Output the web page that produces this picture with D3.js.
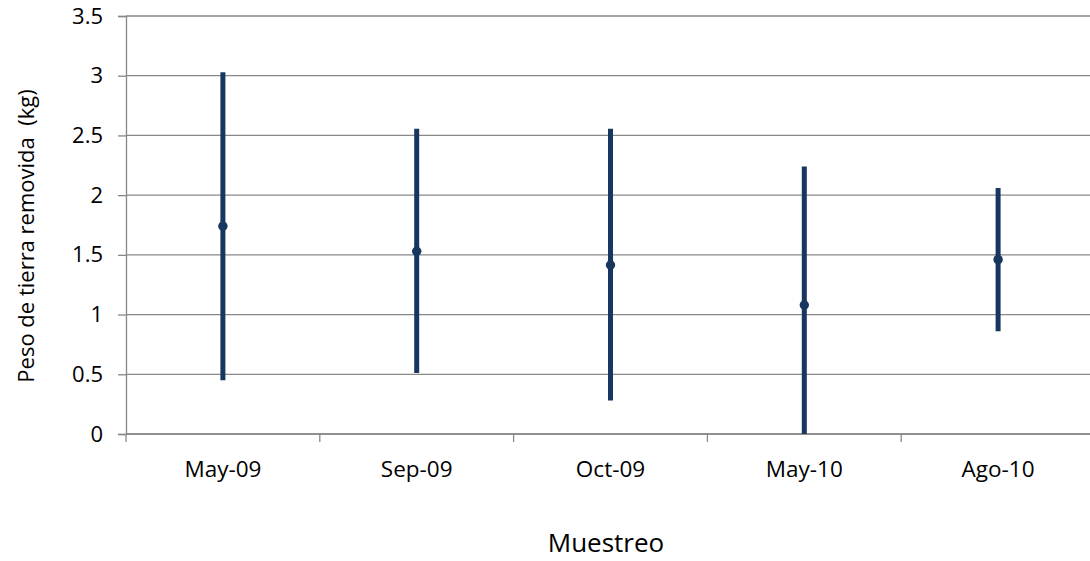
<!DOCTYPE html>
<html>
<head>
<meta charset="utf-8">
<script src="https://cdn.jsdelivr.net/npm/d3@7"></script>
<style>
  body { margin: 0; background: #fff; }
  svg { display: block; }
  svg text { font-family: "Open Sans", sans-serif; fill: #000; }
</style>
</head>
<body>
<div id="chart"></div>
<script>
// Sampling dates and removed soil weight (kg)
const categories = ['May-09', 'Sep-09', 'Oct-09', 'May-10', 'Ago-10'];
const meanValues = [1.74, 1.53, 1.415, 1.08, 1.46];
const highValues = [3.03, 2.555, 2.555, 2.24, 2.06];
const lowValues = [0.45, 0.51, 0.28, 0.0, 0.86];
const yTicks = [0, 0.5, 1, 1.5, 2, 2.5, 3, 3.5];

const width = 1090, height = 561;
const margin = {top: 16, right: -5, bottom: 127, left: 126};
const innerW = width - margin.left - margin.right;
const innerH = height - margin.top - margin.bottom;

const svg = d3.select('#chart')
    .append('svg')
    .attr('width', width)
    .attr('height', height);

const g = svg.append('g')
    .attr('transform', `translate(${margin.left},${margin.top})`);

const xScale = d3.scaleBand()
    .domain(categories)
    .range([0, innerW]);

const yScale = d3.scaleLinear()
    .domain([0, 3.5])
    .range([innerH, 0]);

const gridColor = '#888888';
const markColor = '#17375E';

// Gridlines
g.append('g')
    .selectAll('line')
    .data(yTicks)
    .join('line')
    .attr('x1', 0)
    .attr('x2', innerW)
    .attr('y1', d => yScale(d))
    .attr('y2', d => yScale(d))
    .style('stroke', gridColor)
    .style('stroke-width', 1.3);

// Y axis
const yAxis = g.append('g')
    .call(d3.axisLeft(yScale).tickValues(yTicks).tickSize(8).tickPadding(15).tickFormat(d3.format('')));
yAxis.select('.domain').style('stroke', gridColor).style('stroke-width', 1.3);
yAxis.selectAll('.tick line').style('stroke', gridColor).style('stroke-width', 1.3);
yAxis.selectAll('.tick text')
    .style('font-size', '22px');

// X axis: ticks sit on the band boundaries
const xAxis = g.append('g')
    .attr('transform', `translate(0,${innerH})`);
xAxis.append('line')
    .attr('x1', 0)
    .attr('x2', innerW)
    .style('stroke', gridColor)
    .style('stroke-width', 1.3);
xAxis.selectAll('line.tk')
    .data(categories)
    .join('line')
    .attr('class', 'tk')
    .attr('x1', d => xScale(d))
    .attr('x2', d => xScale(d))
    .attr('y1', 0)
    .attr('y2', 8)
    .style('stroke', gridColor)
    .style('stroke-width', 1.3);
xAxis.selectAll('text')
    .data(categories)
    .join('text')
    .attr('x', d => xScale(d) + xScale.bandwidth() / 2)
    .attr('y', 43)
    .attr('text-anchor', 'middle')
    .style('font-size', '22.5px')
    .text(d => d);

// Error bars
const data = categories.map((c, i) => ({cat: c, mean: meanValues[i], hi: highValues[i], lo: lowValues[i]}));

g.selectAll('line.bar')
    .data(data)
    .join('line')
    .attr('class', 'bar')
    .attr('x1', d => xScale(d.cat) + xScale.bandwidth() / 2)
    .attr('x2', d => xScale(d.cat) + xScale.bandwidth() / 2)
    .attr('y1', d => yScale(d.hi))
    .attr('y2', d => yScale(d.lo))
    .style('stroke', markColor)
    .style('stroke-width', 5);

g.selectAll('circle.mean')
    .data(data)
    .join('circle')
    .attr('class', 'mean')
    .attr('cx', d => xScale(d.cat) + xScale.bandwidth() / 2)
    .attr('cy', d => yScale(d.mean))
    .attr('r', 4.7)
    .style('fill', markColor);

// Axis titles
svg.append('text')
    .attr('x', 606)
    .attr('y', 552)
    .attr('text-anchor', 'middle')
    .style('font-size', '26px')
    .text('Muestreo');

svg.append('text')
    .attr('transform', 'translate(34,236) rotate(-90)')
    .attr('text-anchor', 'middle')
    .style('font-size', '22px')
    .style('white-space', 'pre')
    .attr('xml:space', 'preserve')
    .text('Peso de tierra removida  (kg)');
</script>
</body>
</html>
